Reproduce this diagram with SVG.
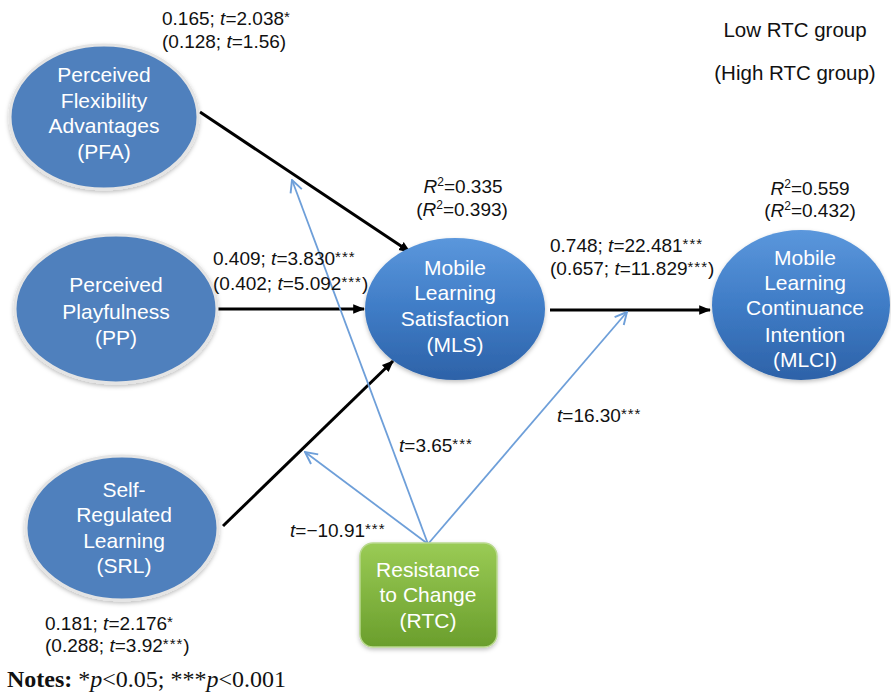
<svg xmlns="http://www.w3.org/2000/svg" width="891" height="693" viewBox="0 0 891 693">
<defs>
<style>
text{font-family:"Liberation Sans",Arial,sans-serif;fill:#111}
.lab{font-size:19px}
.grp{font-size:20.5px;text-anchor:middle}
.node{font-size:21px;fill:#fff;text-anchor:middle}
.it{font-style:italic}
.ast{font-size:15px;letter-spacing:1px}
.blk{stroke:#000;stroke-width:3;fill:none}
.blu{stroke:#6e9fd9;stroke-width:1.8;fill:none}
.ell{stroke:#e4e4e4;stroke-width:3}
.flat{fill:#4f80bd}
.gl{fill:url(#gBlue)}
</style>
<linearGradient id="gBlue" x1="0" y1="0" x2="0" y2="1">
<stop offset="0" stop-color="#5b97dc"/>
<stop offset="0.5" stop-color="#3f7cc6"/>
<stop offset="1" stop-color="#2d62a8"/>
</linearGradient>
<linearGradient id="gGreen" x1="0" y1="0" x2="0" y2="1">
<stop offset="0" stop-color="#9acb55"/>
<stop offset="1" stop-color="#6a9e2c"/>
</linearGradient>
<marker id="ab" viewBox="0 0 10 10" refX="9" refY="5" markerWidth="4" markerHeight="4" orient="auto" markerUnits="strokeWidth">
<path d="M0,1 L10,5 L0,9 Z" fill="#000"/>
</marker>
<marker id="aw" viewBox="0 0 12 12" refX="11" refY="6" markerWidth="8" markerHeight="8" orient="auto" markerUnits="strokeWidth">
<path d="M1,1 L11,6 L1,11" fill="none" stroke="#6e9fd9" stroke-width="1.6"/>
</marker>
<filter id="sh" x="-10%" y="-10%" width="120%" height="125%">
<feDropShadow dx="0" dy="2" stdDeviation="2" flood-color="#000" flood-opacity="0.25"/>
</filter>
</defs>

<g id="connectors">
<line class="blk" x1="200" y1="112" x2="410" y2="252" marker-end="url(#ab)"/>
<line class="blk" x1="218" y1="309" x2="364" y2="309" marker-end="url(#ab)"/>
<line class="blk" x1="223" y1="526" x2="393" y2="361" marker-end="url(#ab)"/>
<line class="blk" x1="550" y1="310" x2="710" y2="310" marker-end="url(#ab)"/>
<line class="blu" x1="428" y1="544" x2="292" y2="180" marker-end="url(#aw)"/>
<line class="blu" x1="428" y1="544" x2="305" y2="452" marker-end="url(#aw)"/>
<line class="blu" x1="428" y1="544" x2="627" y2="312" marker-end="url(#aw)"/>
</g>

<g id="PFA">
<ellipse class="ell flat" cx="104" cy="117" rx="94" ry="72" filter="url(#sh)"/>
<text class="node" x="104" y="82">Perceived</text>
<text class="node" x="104" y="108">Flexibility</text>
<text class="node" x="104" y="133">Advantages</text>
<text class="node" x="104" y="159">(PFA)</text>
</g>

<g id="PP">
<ellipse class="ell flat" cx="116" cy="309" rx="101" ry="74" filter="url(#sh)"/>
<text class="node" x="116" y="292">Perceived</text>
<text class="node" x="116" y="319">Playfulness</text>
<text class="node" x="116" y="345">(PP)</text>
</g>

<g id="SRL">
<ellipse class="ell flat" cx="122" cy="528" rx="96" ry="72" filter="url(#sh)"/>
<text class="node" x="124" y="497">Self-</text>
<text class="node" x="124" y="522">Regulated</text>
<text class="node" x="124" y="548">Learning</text>
<text class="node" x="124" y="573">(SRL)</text>
</g>

<g id="MLS">
<ellipse class="gl" cx="455" cy="309" rx="90" ry="71" filter="url(#sh)"/>
<text class="node" x="455" y="275">Mobile</text>
<text class="node" x="455" y="300">Learning</text>
<text class="node" x="455" y="326">Satisfaction</text>
<text class="node" x="455" y="352">(MLS)</text>
</g>

<g id="MLCI">
<ellipse class="gl" cx="801" cy="305" rx="89" ry="75" filter="url(#sh)"/>
<text class="node" x="805" y="265">Mobile</text>
<text class="node" x="805" y="290">Learning</text>
<text class="node" x="805" y="315">Continuance</text>
<text class="node" x="805" y="342">Intention</text>
<text class="node" x="805" y="367">(MLCI)</text>
</g>

<g id="RTC">
<rect x="360" y="543" width="137" height="104" rx="13" fill="url(#gGreen)" stroke="#b9d98e" stroke-width="1.5" filter="url(#sh)"/>
<text class="node" x="428" y="577">Resistance</text>
<text class="node" x="428" y="602">to Change</text>
<text class="node" x="428" y="628">(RTC)</text>
</g>

<g id="labels">
<text class="lab" x="162" y="25">0.165; <tspan class="it">t</tspan>=2.038<tspan class="ast" dy="-3">*</tspan></text>
<text class="lab" x="162" y="48">(0.128; <tspan class="it">t</tspan>=1.56)</text>

<text class="lab" x="213" y="265">0.409; <tspan class="it">t</tspan>=3.830<tspan class="ast" dy="-3">***</tspan></text>
<text class="lab" x="213" y="290">(0.402; <tspan class="it">t</tspan>=5.092<tspan class="ast" dy="-3">***</tspan><tspan dy="3">)</tspan></text>

<text class="lab" x="463" y="193" text-anchor="middle"><tspan class="it">R</tspan><tspan font-size="12" dy="-7">2</tspan><tspan dy="7">=0.335</tspan></text>
<text class="lab" x="462" y="216" text-anchor="middle">(<tspan class="it">R</tspan><tspan font-size="12" dy="-7">2</tspan><tspan dy="7">=0.393)</tspan></text>

<text class="lab" x="550" y="252">0.748; <tspan class="it">t</tspan>=22.481<tspan class="ast" dy="-3">***</tspan></text>
<text class="lab" x="550" y="275">(0.657; <tspan class="it">t</tspan>=11.829<tspan class="ast" dy="-3">***</tspan><tspan dy="3">)</tspan></text>

<text class="lab" x="810" y="195" text-anchor="middle"><tspan class="it">R</tspan><tspan font-size="12" dy="-7">2</tspan><tspan dy="7">=0.559</tspan></text>
<text class="lab" x="810" y="217" text-anchor="middle">(<tspan class="it">R</tspan><tspan font-size="12" dy="-7">2</tspan><tspan dy="7">=0.432)</tspan></text>

<text class="grp" x="795" y="37">Low RTC group</text>
<text class="grp" x="795" y="80">(High RTC group)</text>

<text class="lab" x="557" y="422"><tspan class="it">t</tspan>=16.30<tspan class="ast" dy="-3">***</tspan></text>
<text class="lab" x="399" y="452"><tspan class="it">t</tspan>=3.65<tspan class="ast" dy="-3">***</tspan></text>
<text class="lab" x="290" y="537"><tspan class="it">t</tspan>=−10.91<tspan class="ast" dy="-3">***</tspan></text>

<text class="lab" x="45" y="630">0.181; <tspan class="it">t</tspan>=2.176<tspan class="ast" dy="-3">*</tspan></text>
<text class="lab" x="45" y="652">(0.288; <tspan class="it">t</tspan>=3.92<tspan class="ast" dy="-3">***</tspan><tspan dy="3">)</tspan></text>

<text x="7" y="687" style="font-family:'Liberation Serif','Times New Roman',serif;font-size:24px"><tspan font-weight="bold">Notes:</tspan> *<tspan class="it">p</tspan>&lt;0.05; ***<tspan class="it">p</tspan>&lt;0.001</text>
</g>
</svg>
